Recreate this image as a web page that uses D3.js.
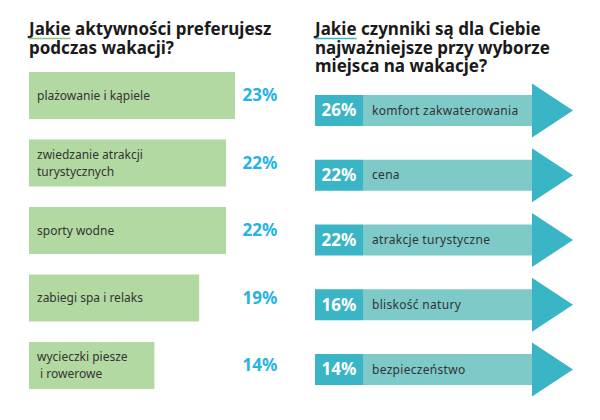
<!DOCTYPE html>
<html><head><meta charset="utf-8">
<script src="https://cdn.jsdelivr.net/npm/d3@7"></script>
<style>body{margin:0;background:#fff}svg{display:block}</style>
</head><body>
<script>
const leftTitle = ["Jakie aktywności preferujesz", "podczas wakacji?"];
const leftCategories = [["plażowanie i kąpiele"], ["zwiedzanie atrakcji", "turystycznych"], ["sporty wodne"], ["zabiegi spa i relaks"], ["wycieczki piesze", " i rowerowe"]];
const leftValues = [23, 22, 22, 19, 14];
const rightTitle = ["Jakie czynniki są dla Ciebie", "najważniejsze przy wyborze", "miejsca na wakacje?"];
const rightCategories = ["komfort zakwaterowania", "cena", "atrakcje turystyczne", "bliskość natury", "bezpieczeństwo"];
const rightValues = [26, 22, 22, 16, 14];

const W = 600, H = 420;
const svg = d3.select("body").append("svg").attr("width", W).attr("height", H);
const font = "Noto Sans, Open Sans, sans-serif";
const titleSize = 17;

function title(lines, x, ulColor) {
  const t = svg.append("g");
  lines.forEach((l, i) => {
    t.append("text").attr("x", x).attr("y", 35 + i * 18.5)
      .attr("font-family", font).attr("font-weight", 700).attr("font-size", titleSize)
      .attr("fill", "#1a1a1a").text(l);
  });
  const tmp = t.append("text").attr("font-family", font).attr("font-weight", 700).attr("font-size", titleSize).text("Jakie");
  const w = tmp.node().getComputedTextLength(); tmp.remove();
  t.append("line").attr("x1", x).attr("x2", x + w).attr("y1", 38.5).attr("y2", 38.5)
    .attr("stroke", ulColor).attr("stroke-width", 1.5);
}
title(leftTitle, 29, "#8fc47c");
title(rightTitle, 315, "#3ab5c6");

// Left chart
const yL = d3.scaleBand().domain(d3.range(leftValues.length)).range([72, 389]).paddingInner(0.304).paddingOuter(0);
const xL = d3.scaleLinear().domain([0, 23]).range([29, 235]);
const gL = svg.append("g");
leftValues.forEach((v, i) => {
  const y0 = yL(i), h = yL.bandwidth();
  gL.append("rect").attr("x", xL(0)).attr("y", y0).attr("width", xL(v) - xL(0)).attr("height", h).attr("fill", "#b3d9a3");
  const lines = leftCategories[i];
  const cy = y0 + h / 2;
  lines.forEach((l, j) => {
    gL.append("text").attr("x", 37).attr("y", cy + (j - (lines.length - 1) / 2) * 17).attr("dy", "0.35em")
      .attr("font-family", font).attr("font-size", 12).attr("fill", "#333").attr("xml:space", "preserve").text(l);
  });
  gL.append("text").attr("x", 260).attr("y", cy).attr("dy", "0.35em").attr("text-anchor", "middle")
    .attr("font-family", font).attr("font-weight", 700).attr("font-size", 17).attr("fill", "#25b3e3").text(v + "%");
});

// Right chart
const yR = d3.scaleBand().domain(d3.range(rightValues.length)).range([95, 385]).paddingInner(0.521).paddingOuter(0);
const gR = svg.append("g");
rightValues.forEach((v, i) => {
  const y0 = yR(i), h = yR.bandwidth();
  const x0 = 315, xBox = 363, xHead = 532, xTip = 573;
  gR.append("rect").attr("x", xBox).attr("y", y0).attr("width", xHead - xBox).attr("height", h).attr("fill", "#7dcac9");
  gR.append("rect").attr("x", x0).attr("y", y0).attr("width", xBox - x0).attr("height", h).attr("fill", "#3ab5c6");
  gR.append("path").attr("d", `M${xHead},${y0 - 11.5}L${xTip},${y0 + h / 2}L${xHead},${y0 + h + 11.5}Z`).attr("fill", "#3ab5c6");
  gR.append("text").attr("x", (x0 + xBox) / 2).attr("y", y0 + h / 2).attr("dy", "0.35em").attr("text-anchor", "middle")
    .attr("font-family", font).attr("font-weight", 700).attr("font-size", 17).attr("fill", "#fff").text(v + "%");
  gR.append("text").attr("x", 372).attr("y", y0 + h / 2).attr("dy", "0.35em")
    .attr("font-family", font).attr("font-size", 12).attr("letter-spacing", 0.3).attr("fill", "#333").text(rightCategories[i]);
});
</script>
</body></html>
